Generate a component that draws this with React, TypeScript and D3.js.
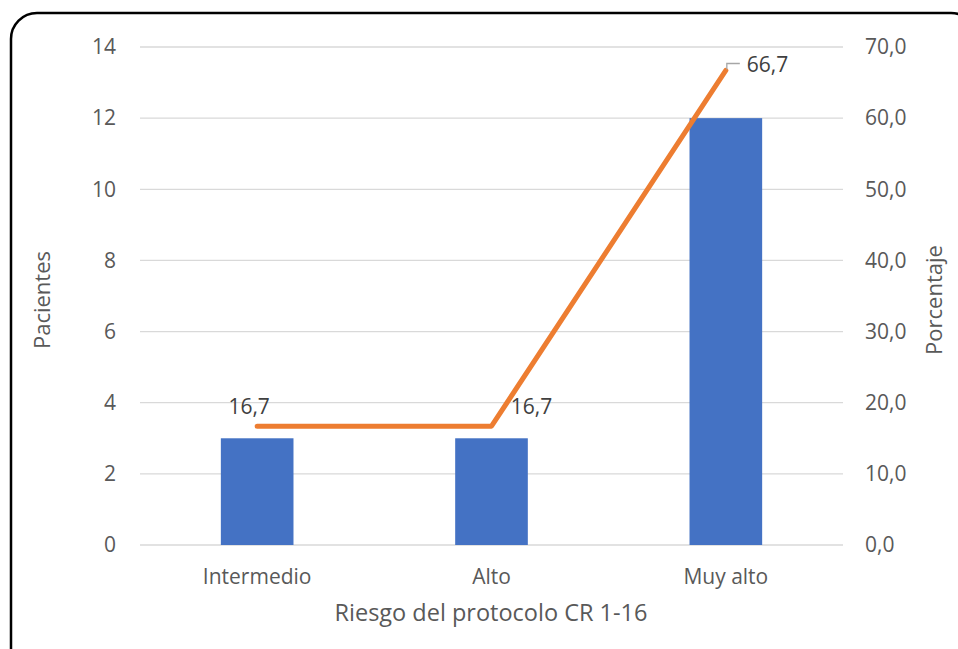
import React from "react";
import * as d3 from "d3";

const categories = ["Intermedio", "Alto", "Muy alto"];
const pacientes = [3, 3, 12];
const porcentaje = [16.7, 16.7, 66.7];
const leftTicks = [0, 2, 4, 6, 8, 10, 12, 14];
const rightTicks = [0, 10, 20, 30, 40, 50, 60, 70];

const W = 958;
const H = 649;
const FONT = "'Open Sans', sans-serif";
const TEXT = "#595959";

export default function App() {
  const left = 140, right = 843, top = 47, bottom = 545;
  const x = d3.scaleBand<string>().domain(categories).range([left, right]).paddingInner(0.69).paddingOuter(0.345);
  const yL = d3.scaleLinear().domain([0, 14]).range([bottom, top]);
  const yR = d3.scaleLinear().domain([0, 70]).range([bottom, top]);
  const cx = (c: string) => (x(c) as number) + x.bandwidth() / 2;
  const line = d3.line<number>().x((_, i) => cx(categories[i])).y((d) => yR(d));
  const fmt = (v: number) => v.toFixed(1).replace(".", ",");

  const labelPos = [
    { dx: -8, dy: -20, anchor: "middle" },
    { dx: 40, dy: -20, anchor: "middle" },
    { dx: 21, dy: -6, anchor: "start" },
  ];

  return (
    <svg width={W} height={H} style={{ position: "absolute", left: 0, top: 0 }} fontFamily={FONT}>
      <rect x={0} y={0} width={W} height={H} fill="#fff" />
      <rect x={11} y={13} width={966} height={665} rx={26} ry={26} fill="#fff" stroke="#000" strokeWidth={2.5} />
      {leftTicks.map((t) => (
        <line key={t} x1={left} x2={right} y1={yL(t)} y2={yL(t)} stroke="#d9d9d9" strokeWidth={1.3} />
      ))}
      {leftTicks.map((t) => (
        <text key={"l" + t} x={116} y={yL(t)} dy="0.35em" textAnchor="end" fontSize={21} fill={TEXT}>{t}</text>
      ))}
      {rightTicks.map((t) => (
        <text key={"r" + t} x={865} y={yR(t)} dy="0.35em" textAnchor="start" fontSize={21} fill={TEXT}>{fmt(t)}</text>
      ))}
      {categories.map((c, i) => (
        <rect key={c} x={x(c)} y={yL(pacientes[i])} width={x.bandwidth()} height={bottom - yL(pacientes[i])} fill="#4472C4" />
      ))}
      {categories.map((c) => (
        <text key={"c" + c} x={cx(c)} y={577} dy="0.35em" textAnchor="middle" fontSize={21} fill={TEXT}>{c}</text>
      ))}
      <path d={line(porcentaje) as string} fill="none" stroke="#ED7D31" strokeWidth={5} strokeLinecap="round" strokeLinejoin="round" />
      <path d={`M${cx(categories[2]) + 1},${yR(porcentaje[2]) - 1} L${cx(categories[2]) + 1},${yR(porcentaje[2]) - 7} L${cx(categories[2]) + 14},${yR(porcentaje[2]) - 7}`} fill="none" stroke="#a6a6a6" strokeWidth={1.3} />
      {categories.map((c, i) => (
        <text key={"v" + c} x={cx(c) + labelPos[i].dx} y={yR(porcentaje[i]) + labelPos[i].dy} dy="0.35em" textAnchor={labelPos[i].anchor as any} fontSize={21} fill="#404040">{fmt(porcentaje[i])}</text>
      ))}
      <text x={491} y={613} dy="0.35em" textAnchor="middle" fontSize={23.5} fill={TEXT}>Riesgo del protocolo CR 1-16</text>
      <text transform={`translate(42,300) rotate(-90)`} dy="0.35em" textAnchor="middle" fontSize={22} fill={TEXT}>Pacientes</text>
      <text transform={`translate(934,300) rotate(-90)`} dy="0.35em" textAnchor="middle" fontSize={22} fill={TEXT}>Porcentaje</text>
    </svg>
  );
}
